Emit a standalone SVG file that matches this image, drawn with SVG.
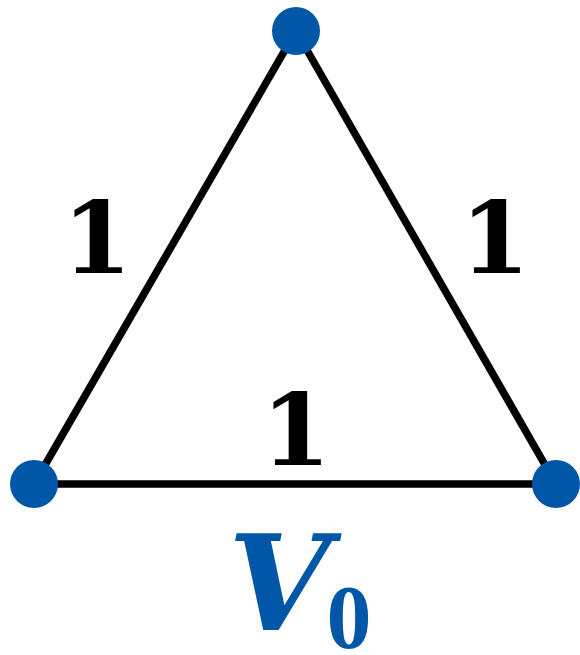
<svg xmlns="http://www.w3.org/2000/svg" width="580" height="655" viewBox="0 0 580 655">
<style>
.edge{stroke:#000;stroke-width:7.5;fill:none}
.node{fill:#0057A8}
.lbl{font-family:"DejaVu Serif","Liberation Serif",serif;font-weight:bold;font-size:100px;fill:#000;text-anchor:middle}
.v{font-family:"DejaVu Serif","Liberation Serif",serif;font-weight:bold;fill:#0057A8}
</style>
<rect width="580" height="655" fill="#fff"/>
<g id="edges">
<line class="edge" x1="296" y1="31" x2="34" y2="484"/>
<line class="edge" x1="296" y1="31" x2="556" y2="484"/>
<line class="edge" x1="34" y1="484" x2="556" y2="484"/>
</g>
<g id="n_top"><circle class="node" cx="296" cy="31" r="24"/></g>
<g id="n_left"><circle class="node" cx="34" cy="484" r="24"/></g>
<g id="n_right"><circle class="node" cx="556" cy="484" r="24"/></g>
<g id="labels">
<text class="lbl" x="97" y="273">1</text>
<text class="lbl" x="495" y="273">1</text>
<text class="lbl" x="296" y="465">1</text>
</g>
<g id="title">
<text class="v" x="228" y="630"><tspan font-size="132" font-style="italic">V</tspan><tspan font-size="90" dy="18" dx="-4" font-family="'Liberation Serif',serif">0</tspan></text>
</g>
</svg>
